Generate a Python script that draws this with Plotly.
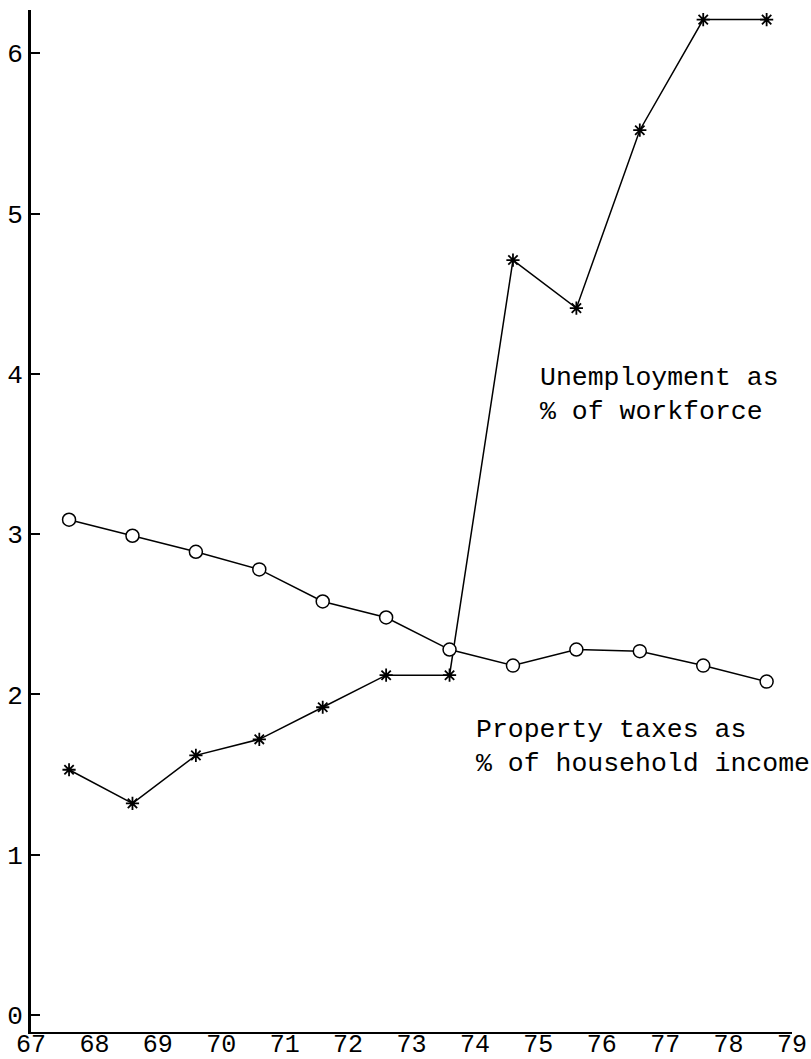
import plotly.graph_objects as go

# Data
x_pos = [67.6, 68.6, 69.6, 70.6, 71.6, 72.6, 73.6, 74.6, 75.6, 76.6, 77.6, 78.6]
unemployment = [1.53, 1.32, 1.62, 1.72, 1.92, 2.12, 2.12, 4.71, 4.41, 5.52, 6.21, 6.21]
property_tax = [3.09, 2.99, 2.89, 2.78, 2.58, 2.48, 2.28, 2.18, 2.28, 2.27, 2.18, 2.08]
x_ticks = list(range(67, 80))
x_tick_labels = [str(v) for v in x_ticks]
y_ticks = [0, 1, 2, 3, 4, 5, 6]

FONT = "Liberation Mono, Courier New, monospace"

fig = go.Figure()
fig.add_trace(go.Scatter(
    x=x_pos, y=unemployment, mode="lines+markers",
    line=dict(color="black", width=1.5),
    marker=dict(symbol="asterisk-open", size=11, color="black",
                line=dict(color="black", width=1.8)),
    showlegend=False, cliponaxis=False,
))
fig.add_trace(go.Scatter(
    x=x_pos, y=property_tax, mode="lines+markers",
    line=dict(color="black", width=1.5),
    marker=dict(symbol="circle", size=13, color="white",
                line=dict(color="black", width=1.5)),
    showlegend=False, cliponaxis=False,
))

fig.add_annotation(x=75.0, y=3.87, xref="x", yref="y",
                   text="Unemployment as<br>% of workforce",
                   showarrow=False, xanchor="left", yanchor="middle", align="left",
                   font=dict(family=FONT, size=26.5, color="black"))
fig.add_annotation(x=73.98, y=1.675, xref="x", yref="y",
                   text="Property taxes as<br>% of household income",
                   showarrow=False, xanchor="left", yanchor="middle", align="left",
                   font=dict(family=FONT, size=26.5, color="black"))

fig.update_layout(
    width=811, height=1059,
    margin=dict(l=31, r=19, t=10, b=27, autoexpand=False),
    paper_bgcolor="white", plot_bgcolor="white",
    font=dict(family=FONT, size=26, color="black"),
    xaxis=dict(range=[67, 79], tickvals=x_ticks, ticktext=x_tick_labels,
               showgrid=False, zeroline=False, showline=True, automargin=False,
               linecolor="black", linewidth=2, ticks="", ticklen=0,
               ticklabelstandoff=-12,
               tickfont=dict(family=FONT, size=25, color="black")),
    yaxis=dict(range=[-0.106, 6.27], tickvals=y_ticks,
               showgrid=False, zeroline=False, showline=True, automargin=False,
               linecolor="black", linewidth=3, ticks="inside", ticklen=9,
               tickwidth=2, tickcolor="black",
               tickfont=dict(family=FONT, size=26, color="black")),
)

fig.write_html(
    "out.html",
    config={"displayModeBar": False},
    post_script="document.body.style.margin='0';document.body.style.overflow='hidden';",
)
